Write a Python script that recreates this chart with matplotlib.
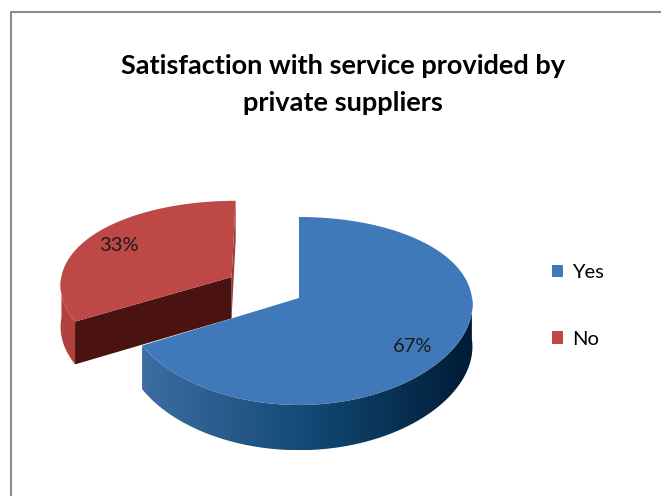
import numpy as np
import matplotlib.pyplot as plt
from matplotlib.patches import Polygon, Patch
from matplotlib.colors import LinearSegmentedColormap

# survey answers
labels = ['Yes', 'No']
shares = [67, 33]
explode = [0.0, 0.46]

top_colors = ['#3F79B9', '#BE4846']
side_colors = [None, '#B2413E']
cut_colors = [None, '#4A1311']
edge_colors = [None, '#9E3835']
blue_side = LinearSegmentedColormap.from_list('blue_side', ['#3E6DA2', '#124A75', '#001B35'])

# where the percentage goes on each top face
label_r = [0.74, 0.8]
label_dy = [12, 2]

# fake 3d projection of the pie disc (pixel units)
CX, CY = 299, 298
SX, SY = 173, 92.2
K = 0.138
H = 42


def proj(u, v, z=0.0):
    w = 1 + K * v
    x = CX + SX * u / np.sqrt(w)
    y = CY - SY * v / w + H * z / np.sqrt(w)
    return x, y


fig = plt.figure(figsize=(6.61, 4.96), dpi=100)
ax = fig.add_axes([0, 0, 1, 1])
ax.set_xlim(0, 661)
ax.set_ylim(496, 0)
ax.axis('off')

# chart border
ax.plot([11, 11, 661], [496, 12, 12], color='#8a8a8a', lw=1.5, clip_on=False)

# slice angles, clockwise from 12 o'clock
spans = []
a = 90.0
for s in shares:
    spans.append((a - s * 3.6, a))
    a -= s * 3.6

# draw the back (exploded) slice first
for i in [1, 0]:
    a0, a1 = spans[i]
    mid = np.radians((a0 + a1) / 2)
    ou, ov = explode[i] * np.cos(mid), explode[i] * np.sin(mid)
    th = np.radians(np.linspace(a0, a1, 400))
    u, v = ou + np.cos(th), ov + np.sin(th)

    # radial faces
    if i == 1:
        for ang, col in [(a0, edge_colors[i]), (a1, cut_colors[i])]:
            eu, ev = ou + np.cos(np.radians(ang)), ov + np.sin(np.radians(ang))
            pts = [proj(ou, ov), proj(eu, ev), proj(eu, ev, 1), proj(ou, ov, 1)]
            ax.add_patch(Polygon(pts, closed=True, fc=col, ec='none'))

    # outer curved side, front part only
    front = np.sin(th) <= 0.01
    fu, fv = u[front], v[front]
    tx, ty = proj(fu, fv)
    bx, by = proj(fu, fv, 1)
    side = np.column_stack([np.r_[tx, bx[::-1]], np.r_[ty, by[::-1]]])
    if i == 0:
        patch = Polygon(side, closed=True, fc='none', ec='none')
        ax.add_patch(patch)
        grad = np.linspace(0, 1, 256)[None, :]
        im = ax.imshow(grad, cmap=blue_side, extent=[side[:, 0].min(), side[:, 0].max(),
                       side[:, 1].max(), side[:, 1].min()], aspect='auto', zorder=1)
        im.set_clip_path(patch)
    else:
        ax.add_patch(Polygon(side, closed=True, fc=side_colors[i], ec='none'))

    # top face
    xs, ys = proj(u, v)
    cx0, cy0 = proj(ou, ov)
    ax.add_patch(Polygon(np.column_stack([np.r_[cx0, xs], np.r_[cy0, ys]]),
                         closed=True, fc=top_colors[i], ec='none', zorder=2))

    # percentage label
    lu, lv = ou + label_r[i] * np.cos(mid), ov + label_r[i] * np.sin(mid)
    lx, ly = proj(lu, lv)
    ax.text(lx, ly + label_dy[i], f'{shares[i]}%', ha='center', va='center',
            fontsize=14.5, family='Lato', color='#1a1a1a', zorder=3)

ax.set_xlim(0, 661)
ax.set_ylim(496, 0)

ax.text(343, 66, 'Satisfaction with service provided by', ha='center', va='center',
        fontsize=19.5, fontweight='bold', family='Lato', color='black')
ax.text(343, 103, 'private suppliers', ha='center', va='center',
        fontsize=19.5, fontweight='bold', family='Lato', color='black')

handles = [Patch(fc=c, ec='none', label=l) for c, l in zip(top_colors, labels)]
ax.legend(handles=handles, loc='center left', bbox_to_anchor=(534, 306),
          bbox_transform=ax.transData, frameon=False, handlelength=0.55,
          handleheight=0.55, handletextpad=0.45, labelspacing=2.45,
          prop={'family': 'Lato', 'size': 14.5})

fig.savefig('out.png', dpi=100)
